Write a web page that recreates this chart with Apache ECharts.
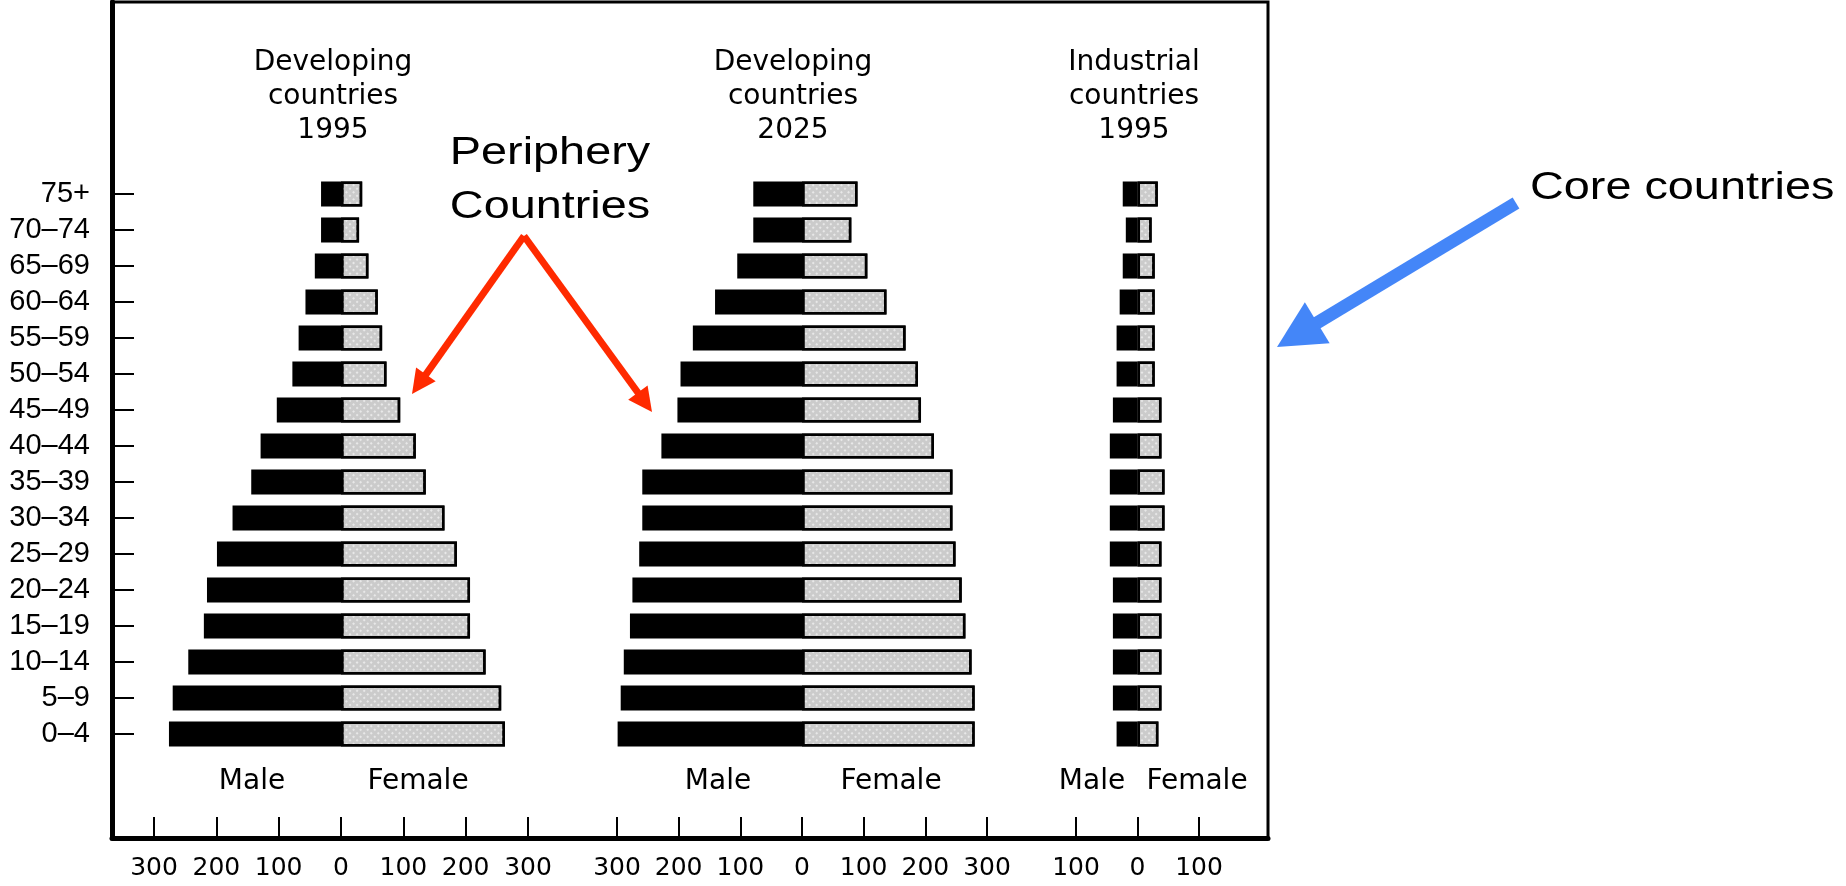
<!DOCTYPE html>
<html>
<head>
<meta charset="utf-8">
<title>Population pyramids</title>
<script src="https://cdn.jsdelivr.net/npm/echarts@6/dist/echarts.min.js"></script>
<style>
  html, body { margin: 0; padding: 0; background: #fff; }
  #chart { width: 1846px; height: 886px; }
</style>
</head>
<body>
<div id="chart"></div>
<script>
// ── Data (bottom → top, thousands of people) ─────────────────

const ages = ['0–4', '5–9', '10–14', '15–19', '20–24', '25–29', '30–34', '35–39',
              '40–44', '45–49', '50–54', '55–59', '60–64', '65–69', '70–74', '75+'];

const dev1995Male   = [276, 270, 245, 220, 215, 199, 174, 144, 129, 103, 78, 68, 57, 42, 32, 32];
const dev1995Female = [263, 257, 232, 207, 207, 186, 166, 136, 120, 95, 73, 66, 59, 44, 29, 34];

const dev2025Male   = [299, 294, 289, 279, 275, 264, 259, 259, 228, 202, 197, 177, 141, 105, 79, 79];
const dev2025Female = [280, 280, 275, 265, 259, 249, 244, 244, 214, 193, 188, 168, 137, 106, 80, 90];

const ind1995Male   = [34, 40, 40, 40, 40, 45, 45, 45, 45, 40, 34, 34, 29, 24, 19, 24];
const ind1995Female = [34, 39, 39, 39, 39, 39, 44, 44, 39, 39, 28, 28, 28, 28, 23, 33];

const panelTitles = ['Developing\ncountries\n1995', 'Developing\ncountries\n2025', 'Industrial\ncountries\n1995'];

// ── Layout ───────────────────────────────────────────────────

const PLOT_TOP = 176, PLOT_BOTTOM = 134;          // 16 bands of 36px
const AXIS_OFFSET = 86;                            // x axis sits on the frame bottom
const panels = [
  { left: 154,  right: 1318, max: 300, male: dev1995Male, female: dev1995Female, cx: 333,  mx: 252,  fx: 418 },
  { left: 617,  right: 859,  max: 300, male: dev2025Male, female: dev2025Female, cx: 793,  mx: 718,  fx: 891 },
  { left: 1076, right: 647,  max: 100, male: ind1995Male, female: ind1995Female, cx: 1134, mx: 1092, fx: 1197 },
];

const TICK_FONT  = 'DejaVu Sans';
const LABEL_FONT = 'Liberation Sans';

// ── Helpers ──────────────────────────────────────────────────

function arrow(x1, y1, x2, y2, color, width, headLen, headHalf) {
  const len = Math.hypot(x2 - x1, y2 - y1);
  const ux = (x2 - x1) / len, uy = (y2 - y1) / len;
  const bx = x2 - ux * headLen, by = y2 - uy * headLen;
  return [
    { type: 'line', z: 20,
      shape: { x1, y1, x2: bx + ux * 3, y2: by + uy * 3 },
      style: { stroke: color, lineWidth: width } },
    { type: 'polygon', z: 20,
      shape: { points: [[x2, y2], [bx - uy * headHalf, by + ux * headHalf], [bx + uy * headHalf, by - ux * headHalf]] },
      style: { fill: color } },
  ];
}

function text(str, x, y, font, opts = {}) {
  return {
    type: 'text', z: 20, x, y,
    scaleX: opts.scaleX || 1,
    style: {
      text: str, font, fill: '#000',
      textAlign: opts.align || 'center',
      textVerticalAlign: opts.valign || 'middle',
      lineHeight: opts.lineHeight,
    },
  };
}

const femaleStyle = {
  color: '#cbcbcb',
  borderColor: '#000',
  borderWidth: 2.5,
  decal: {
    symbol: 'rect', symbolSize: 1, color: 'rgba(255,255,255,0.55)',
    dashArrayX: [2, 3], dashArrayY: [2, 3], rotation: Math.PI / 4,
  },
};

// ── Option ───────────────────────────────────────────────────

const grids = panels.map(p => ({ left: p.left, right: p.right, top: PLOT_TOP, bottom: PLOT_BOTTOM }));
grids.push({ left: 112, right: 578, top: 2, bottom: 48, show: true, borderColor: '#000', borderWidth: 3 });

const xAxes = panels.map((p, i) => ({
  gridIndex: i, type: 'value', min: -p.max, max: p.max, interval: 100,
  offset: AXIS_OFFSET,
  axisLine: { show: false },
  axisTick: { show: true, inside: true, length: 21, lineStyle: { color: '#000', width: 2 } },
  axisLabel: { margin: 18, color: '#000', fontFamily: TICK_FONT, fontSize: 25, formatter: v => Math.abs(v) },
  splitLine: { show: false },
}));
xAxes.push({
  gridIndex: 3, type: 'value', min: 0, max: 1,
  axisLine: { show: true, onZero: false, lineStyle: { color: '#000', width: 5 } },
  axisTick: { show: false }, axisLabel: { show: false }, splitLine: { show: false },
});

const yAxes = panels.map((p, i) => ({
  gridIndex: i, type: 'category', data: ages, show: i === 0,
  position: 'left', offset: 42,
  axisLine: { show: true, onZero: false, lineStyle: { color: '#000', width: 5 } },
  axisTick: { show: true, inside: true, length: 22, interval: 0, alignWithLabel: true,
              lineStyle: { color: '#000', width: 2 } },
  axisLabel: { interval: 0, margin: 22, color: '#000', fontFamily: LABEL_FONT, fontSize: 29 },
}));
yAxes.push({
  gridIndex: 3, type: 'value', min: 0, max: 1,
  axisLine: { show: true, onZero: false, lineStyle: { color: '#000', width: 5 } },
  axisTick: { show: false }, axisLabel: { show: false }, splitLine: { show: false },
});

const series = [];
panels.forEach((p, i) => {
  series.push({
    type: 'bar', name: 'Male', xAxisIndex: i, yAxisIndex: i,
    data: p.male.map(v => -v), barWidth: 25, barGap: '-100%',
    itemStyle: { color: '#000', borderColor: '#000', borderWidth: 2 },
  });
  series.push({
    type: 'bar', name: 'Female', xAxisIndex: i, yAxisIndex: i,
    data: p.female, barWidth: 25, barGap: '-100%',
    itemStyle: femaleStyle,
  });
});

const graphics = [];
panels.forEach((p, i) => {
  graphics.push(text(panelTitles[i], p.cx, 46, '28px "DejaVu Sans"', { valign: 'top', lineHeight: 34 }));
  graphics.push(text('Male', p.mx, 782, '28px "DejaVu Sans"'));
  graphics.push(text('Female', p.fx, 782, '28px "DejaVu Sans"'));
});
graphics.push(text('Periphery\nCountries', 550, 126, '39px "Liberation Sans"', { valign: 'top', lineHeight: 54, scaleX: 1.2 }));
graphics.push(text('Core countries', 1530, 188, '39px "Liberation Sans"', { align: 'left', scaleX: 1.2 }));
graphics.push(...arrow(524, 236, 412, 394, '#ff2a00', 7, 24, 12));
graphics.push(...arrow(524, 236, 652, 412, '#ff2a00', 7, 24, 12));
graphics.push(...arrow(1516, 203, 1277, 347, '#4486f8', 13, 47, 24));

const chart = echarts.init(document.getElementById('chart'), null, { renderer: 'canvas' });
chart.setOption({
  animation: false,
  backgroundColor: '#fff',
  grid: grids,
  xAxis: xAxes,
  yAxis: yAxes,
  series,
  graphic: graphics,
});
</script>
</body>
</html>
